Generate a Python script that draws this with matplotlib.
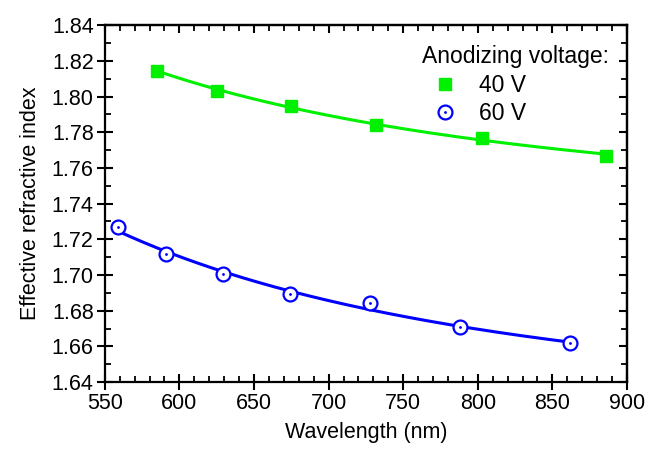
import matplotlib.pyplot as plt
from matplotlib.ticker import MultipleLocator, FormatStrFormatter
from matplotlib.legend_handler import HandlerTuple
import numpy as np

plt.rcParams['font.family'] = ['Liberation Sans', 'DejaVu Sans']

# data
wl_40 = [585, 625, 675, 732, 803, 886]
n_40 = [1.8145, 1.8031, 1.7948, 1.7841, 1.7767, 1.7668]
wl_60 = [559, 591, 629, 674, 728, 788, 862]
n_60 = [1.7268, 1.7115, 1.7003, 1.6892, 1.6841, 1.6711, 1.6618]

green = '#00f000'
blue = '#0000ff'
fs = 15.5

fig = plt.figure(figsize=(6.47, 4.5), dpi=100)
ax = fig.add_axes([0.162, 0.151, 0.807, 0.793])

# Cauchy-type fit n = A + B/wl^2 through each data set
for wl, n, c in [(wl_40, n_40, green), (wl_60, n_60, blue)]:
    wl = np.array(wl, dtype=float)
    coef = np.polyfit(1 / wl**2, n, 1)
    xs = np.linspace(wl.min(), wl.max(), 200)
    ax.plot(xs, np.polyval(coef, 1 / xs**2), color=c, lw=2.2, zorder=2)

h40, = ax.plot(wl_40, n_40, 's', color=green, ms=9, zorder=3)
h60a, = ax.plot(wl_60, n_60, 'o', mfc='white', mec=blue, mew=1.6, ms=10, zorder=3)
h60b, = ax.plot(wl_60, n_60, '.', color=blue, ms=2, zorder=4)

ax.set_xlim(550, 900)
ax.set_ylim(1.64, 1.84)
ax.xaxis.set_major_locator(MultipleLocator(50))
ax.xaxis.set_minor_locator(MultipleLocator(10))
ax.yaxis.set_major_locator(MultipleLocator(0.02))
ax.yaxis.set_minor_locator(MultipleLocator(0.01))
ax.yaxis.set_major_formatter(FormatStrFormatter('%.2f'))
ax.tick_params(which='major', direction='inout', length=12, width=1.5, labelsize=fs, pad=2)
ax.tick_params(which='minor', direction='in', length=4, width=1.3)
for s in ax.spines.values():
    s.set_linewidth(1.6)

# inward ticks on top and right
top = ax.secondary_xaxis('top')
top.xaxis.set_major_locator(MultipleLocator(50))
top.xaxis.set_minor_locator(MultipleLocator(10))
top.tick_params(which='major', direction='in', length=6, width=1.5, labeltop=False)
top.tick_params(which='minor', direction='in', length=4, width=1.3)
right = ax.secondary_yaxis('right')
right.yaxis.set_major_locator(MultipleLocator(0.02))
right.yaxis.set_minor_locator(MultipleLocator(0.01))
right.tick_params(which='major', direction='in', length=6, width=1.5, labelright=False)
right.tick_params(which='minor', direction='in', length=4, width=1.3)
top.spines['top'].set_linewidth(1.6)
right.spines['right'].set_linewidth(1.6)

ax.set_xlabel('Wavelength (nm)', fontsize=fs, labelpad=6)
ax.set_ylabel('Effective refractive index', fontsize=fs, labelpad=8)

leg = ax.legend([h40, (h60a, h60b)], ['40 V', '60 V'], title='Anodizing voltage:',
                handler_map={tuple: HandlerTuple(ndivide=1)},
                loc='upper left', bbox_to_anchor=(0.652, 0.9),
                bbox_transform=fig.transFigure, frameon=False,
                fontsize=16.5, title_fontsize=16.5, labelspacing=0.25,
                handlelength=2.0, handletextpad=0.5, borderpad=0, borderaxespad=0)
leg._legend_box.align = 'left'

fig.savefig('out.png', dpi=100)
